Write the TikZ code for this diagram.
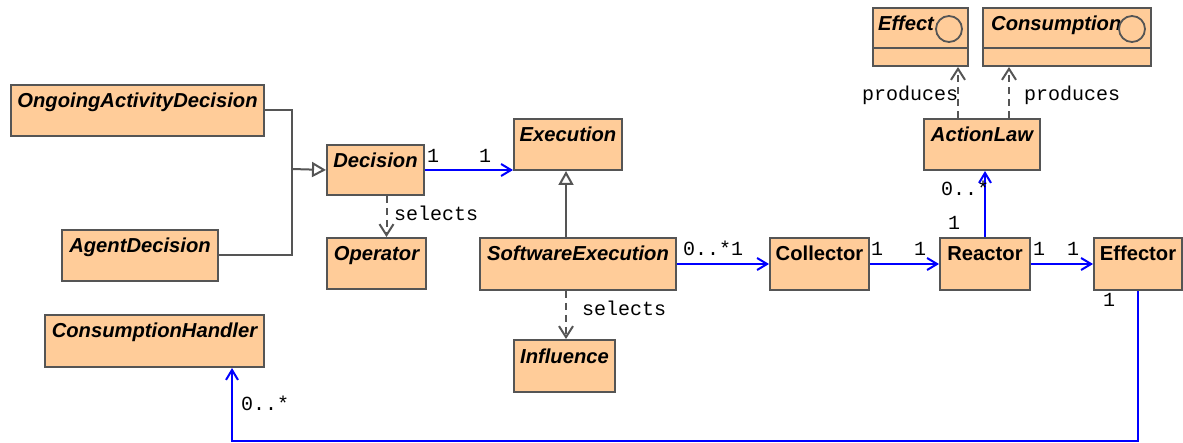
\documentclass[tikz,border=0pt]{standalone}
\usepackage{fontspec}
\setsansfont{Liberation Sans}
\setmonofont{Liberation Mono}
\usetikzlibrary{arrows.meta}

\definecolor{classfill}{RGB}{255,204,153}
\definecolor{classline}{RGB}{85,85,85}
\definecolor{assoc}{RGB}{0,0,255}

\tikzset{
  classbox/.style={draw=classline, fill=classfill, line width=2pt, inner sep=0pt, anchor=north west},
  classname/.style={font=\sffamily\bfseries\itshape\fontsize{20.2}{23}\selectfont, anchor=base, inner sep=0pt},
  concretename/.style={font=\sffamily\bfseries\fontsize{20.2}{23}\selectfont, anchor=base, inner sep=0pt},
  rolelabel/.style={font=\ttfamily\fontsize{20}{22}\selectfont, anchor=base west, inner sep=0pt},
  assocline/.style={draw=assoc, line width=2pt, -{Straight Barb[length=10pt,width=12pt]}},
  depline/.style={draw=classline, line width=2pt, dash pattern=on 7pt off 5pt, -{Straight Barb[length=11pt,width=14pt]}},
  genline/.style={draw=classline, line width=2pt},
  gentip/.style={-{Triangle[open,length=14pt,width=15pt]}},
}

% class rectangle: name, left, top, right, bottom
\newcommand\classrect[5]{%
  \node[classbox, minimum width={(#4-#2)*1pt}, minimum height={(#5-#3)*1pt}] (#1) at (#2,#3) {};}

\begin{document}
\begin{tikzpicture}[x=1pt, y=-1pt]
\useasboundingbox (0,0) rectangle (1183,443);

% ---- classes ----
\classrect{oad}{10}{84}{263}{135}
\node[classname] (oad-t) at ([yshift=-24pt]oad.north) {OngoingActivityDecision};

\classrect{ad}{61}{229}{217}{280}
\node[classname] (ad-t) at ([yshift=-24pt]ad.north) {AgentDecision};

\classrect{decision}{326}{144}{423}{194}
\node[classname] (decision-t) at ([yshift=-24pt]decision.north) {Decision};

\classrect{operator}{326}{237}{425}{288}
\node[classname] (operator-t) at ([yshift=-24pt]operator.north) {Operator};

\classrect{execution}{513}{118}{621}{169}
\node[classname] (execution-t) at ([yshift=-24pt]execution.north) {Execution};

\classrect{swexec}{479}{237}{675}{289}
\node[classname] (swexec-t) at ([yshift=-24pt]swexec.north) {SoftwareExecution};

\classrect{influence}{513}{339}{614}{391}
\node[classname] (influence-t) at ([yshift=-24pt]influence.north) {Influence};

\classrect{collector}{769}{237}{868}{289}
\node[concretename] (collector-t) at ([yshift=-24pt]collector.north) {Collector};

\classrect{reactor}{939}{237}{1029}{289}
\node[concretename] (reactor-t) at ([yshift=-24pt]reactor.north) {Reactor};

\classrect{effector}{1093}{237}{1181}{289}
\node[concretename] (effector-t) at ([yshift=-24pt]effector.north) {Effector};

\classrect{actionlaw}{923}{118}{1039}{169}
\node[classname] (actionlaw-t) at ([yshift=-24pt]actionlaw.north) {ActionLaw};

\classrect{handler}{44}{314}{263}{366}
\node[classname] (handler-t) at ([yshift=-24pt]handler.north) {ConsumptionHandler};

% interfaces with a compartment line and a lollipop circle
\classrect{effect}{872}{7}{967}{65}
\draw[classline, line width=2pt] (effect.west |- 0,48) -- (effect.east |- 0,48);
\node[classname, anchor=base west] (effect-t) at (878,31) {Effect};
\draw[classline, line width=1.8pt] (949,29) circle (13pt);

\classrect{consumption}{982}{7}{1150}{65}
\draw[classline, line width=2pt] (consumption.west |- 0,48) -- (consumption.east |- 0,48);
\node[classname, anchor=base west] (consumption-t) at (991,31) {Consumption};
\draw[classline, line width=1.8pt] (1132,29) circle (13pt);

% ---- generalizations ----
\coordinate (gjoin) at (292,169);
\draw[genline] (oad.east) -| (gjoin);
\draw[genline] (ad.east) -| (gjoin);
\draw[genline, gentip] (gjoin) -- (decision.west);
\draw[genline, gentip] ([xshift=-12pt]swexec.north) -- ([xshift=-12pt]swexec.north |- execution.south);

% ---- dependencies ----
\draw[depline] ([xshift=11pt]decision.south) -- ([xshift=11pt]decision.south |- operator.north);
\draw[depline] ([xshift=-12pt]swexec.south) -- ([xshift=-12pt]swexec.south |- influence.north);
\draw[depline] ([xshift=-24pt]actionlaw.north) -- ([xshift=-24pt]actionlaw.north |- effect.south);
\draw[depline] ([xshift=27pt]actionlaw.north) -- ([xshift=27pt]actionlaw.north |- consumption.south);

% ---- associations ----
\draw[assocline] (decision.east) -- (decision.east -| execution.west);
\draw[assocline] (swexec.east) -- (collector.west);
\draw[assocline] (collector.east) -- (reactor.west);
\draw[assocline] (reactor.east) -- (effector.west);
\draw[assocline] (reactor.north) -- (reactor.north |- actionlaw.south);
\coordinate (chturn) at (232,441);
\draw[assocline] (effector.south) |- (chturn) -- (chturn |- handler.south);

% ---- labels ----
\node[rolelabel] (l1) at (427,163) {1};
\node[rolelabel] (l2) at (479,163) {1};
\node[rolelabel] (l3) at (394,221) {selects};
\node[rolelabel] (l4) at (582,316) {selects};
\node[rolelabel] (l5) at (683,256) {0..*1};
\node[rolelabel] (l6) at (871,256) {1};
\node[rolelabel] (l7) at (914,256) {1};
\node[rolelabel] (l8) at (1033,256) {1};
\node[rolelabel] (l9) at (1067,256) {1};
\node[rolelabel] (l10) at (1103,307) {1};
\node[rolelabel] (l11) at (948,230) {1};
\node[rolelabel] (l12) at (941,196) {0..*};
\node[rolelabel] (l13) at (862,101) {produces};
\node[rolelabel] (l14) at (1024,101) {produces};
\node[rolelabel] (l15) at (241,410) {0..*};
\end{tikzpicture}
\end{document}
